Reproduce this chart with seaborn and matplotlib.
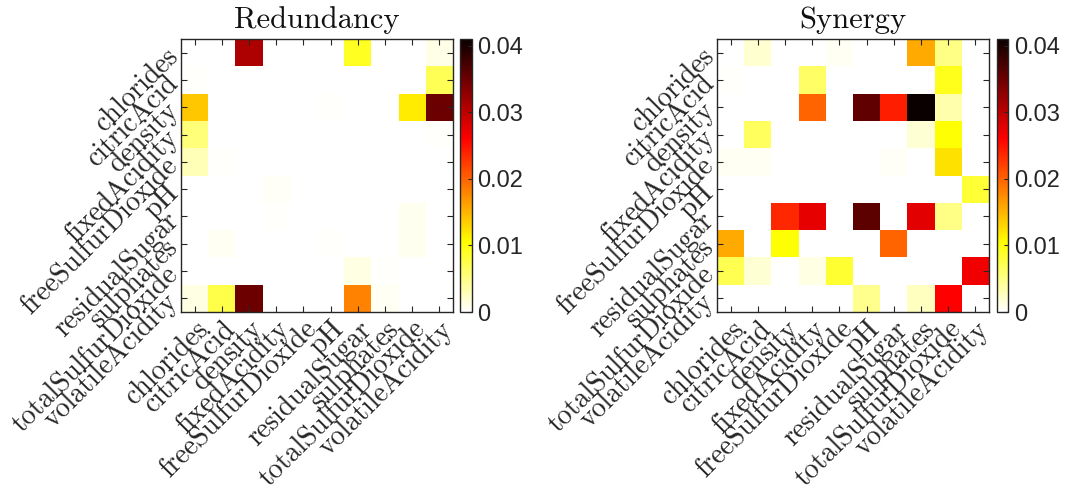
import numpy as np
import pandas as pd
import matplotlib
matplotlib.use('Agg')
import matplotlib.pyplot as plt
import seaborn as sns

# feature names (rows and columns share the same order)
features = ['chlorides', 'citricAcid', 'density', 'fixedAcidity', 'freeSulfurDioxide',
            'pH', 'residualSugar', 'sulphates', 'totalSulfurDioxide', 'volatileAcidity']

# redundancy values, one list per row
red_chlorides = [0, 0, 0.031, 0, 0, 0, 0.009, 0, 0, 0.001]
red_citricAcid = [0.0002, 0, 0, 0, 0, 0, 0, 0, 0, 0.007]
red_density = [0.0138, 0, 0, 0, 0, 0.0003, 0, 0, 0.0116, 0.035]
red_fixedAcidity = [0.0055, 0, 0, 0, 0, 0, 0, 0, 0, 0.0002]
red_freeSulfurDioxide = [0.003, 0.0003, 0, 0, 0, 0, 0, 0, 0, 0]
red_pH = [0, 0, 0, 0.0004, 0, 0, 0, 0, 0, 0]
red_residualSugar = [0, 0, 0, 0.0003, 0, 0, 0, 0, 0.0008, 0]
red_sulphates = [0, 0.0006, 0, 0, 0, 0.0003, 0, 0, 0.0008, 0]
red_totalSulfurDioxide = [0, 0, 0, 0, 0, 0, 0.0012, 0.0003, 0, 0]
red_volatileAcidity = [0.0012, 0.0075, 0.035, 0, 0, 0, 0.018, 0.0006, 0, 0]

# synergy values, one list per row
syn_chlorides = [0, 0.002, 0, 0, 0.0006, 0, 0, 0.0156, 0.005, 0]
syn_citricAcid = [0.0003, 0, 0, 0.0064, 0, 0, 0, 0, 0.0094, 0]
syn_density = [0, 0, 0, 0.0199, 0, 0.0357, 0.0242, 0.041, 0.0035, 0]
syn_fixedAcidity = [0, 0.0067, 0, 0, 0, 0, 0, 0.0019, 0.0104, 0]
syn_freeSulfurDioxide = [0.0006, 0.0006, 0, 0, 0, 0, 0.0004, 0, 0.0123, 0]
syn_pH = [0, 0, 0, 0, 0, 0, 0, 0, 0, 0.0082]
syn_residualSugar = [0, 0, 0.0236, 0.0275, 0, 0.036, 0, 0.0278, 0.005, 0]
syn_sulphates = [0.0156, 0, 0.0104, 0, 0, 0, 0.0199, 0, 0, 0]
syn_totalSulfurDioxide = [0.0072, 0.0019, 0, 0.0012, 0.0084, 0, 0, 0, 0, 0.0268]
syn_volatileAcidity = [0, 0, 0, 0, 0, 0.0047, 0, 0.0027, 0.026, 0]

redundancy = pd.DataFrame([red_chlorides, red_citricAcid, red_density, red_fixedAcidity,
                           red_freeSulfurDioxide, red_pH, red_residualSugar, red_sulphates,
                           red_totalSulfurDioxide, red_volatileAcidity],
                          index=features, columns=features)
synergy = pd.DataFrame([syn_chlorides, syn_citricAcid, syn_density, syn_fixedAcidity,
                        syn_freeSulfurDioxide, syn_pH, syn_residualSugar, syn_sulphates,
                        syn_totalSulfurDioxide, syn_volatileAcidity],
                       index=features, columns=features)

cbar_ticks = [0, 0.01, 0.02, 0.03, 0.04]
cbar_labels = ['0', '0.01', '0.02', '0.03', '0.04']
vmax = 0.041

serif = 'cmr10'
sans = 'Liberation Sans'
edge = '#262626'

fig = plt.figure(figsize=(10.7, 4.94), dpi=100)

panels = [
    ('Redundancy', redundancy, [0.1692, 0.3684, 0.2542, 0.5526], [0.4299, 0.3684, 0.0112, 0.5526]),
    ('Synergy', synergy, [0.6701, 0.3684, 0.2542, 0.5526], [0.9318, 0.3684, 0.0105, 0.5526]),
]

for title, df, ax_pos, cb_pos in panels:
    ax = fig.add_axes(ax_pos)
    cax = fig.add_axes(cb_pos)
    sns.heatmap(df, ax=ax, cbar_ax=cax, cmap='hot_r', vmin=0, vmax=vmax,
                xticklabels=True, yticklabels=True, linewidths=0)

    # axis box with inward ticks on every side
    for sp in ax.spines.values():
        sp.set_visible(True)
        sp.set_color(edge)
        sp.set_linewidth(1.0)
    ax.tick_params(direction='in', length=4, width=0.8, color=edge,
                   top=True, right=True, bottom=True, left=True, pad=5)
    ax.tick_params(axis='x', pad=3)
    ax.set_xlabel('')
    ax.set_ylabel('')

    ax.set_xticklabels(features, rotation=45, ha='right', va='top',
                       rotation_mode='anchor', fontsize=20, family=serif, color='#262626')
    ax.set_yticklabels(features, rotation=45, ha='right', va='center',
                       rotation_mode='anchor', fontsize=20, family=serif, color='#262626')
    ax.set_title(title, fontsize=22, family=serif, pad=8, color='#111111')

    # colorbar styling
    cb = ax.collections[0].colorbar
    cb.outline.set_visible(True)
    cb.outline.set_linewidth(1.0)
    cb.outline.set_edgecolor(edge)
    cb.set_ticks(cbar_ticks)
    cb.set_ticklabels(cbar_labels)
    cax.tick_params(direction='in', length=3, width=0.8, color=edge, labelsize=17, pad=4)
    for lab in cax.get_yticklabels():
        lab.set_family(sans)
        lab.set_color('#262626')

fig.savefig('out.png', dpi=100)
